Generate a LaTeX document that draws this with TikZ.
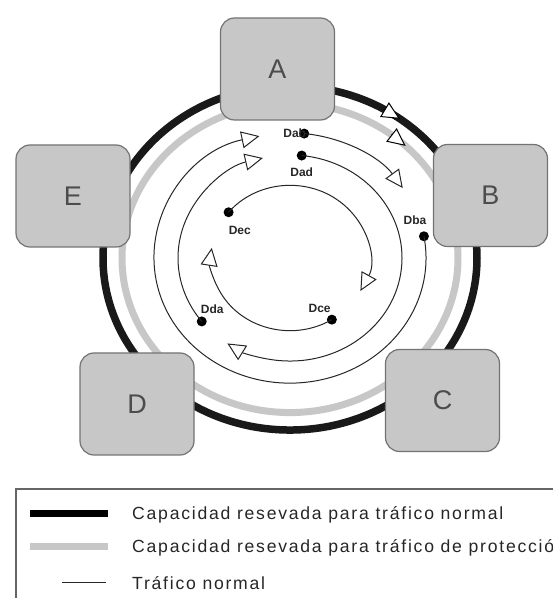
\documentclass[tikz,border=0pt]{standalone}
\usepackage{fontspec}
\setmainfont{Liberation Sans}
\newfontfamily\legendfont[LetterSpace=10]{Liberation Sans}
\usepackage{tikz}
\usetikzlibrary{arrows.meta,positioning}
\tikzset{
  rgnode/.style={
    rectangle, rounded corners=14pt, draw=black!55, fill=black!22, line width=1.2pt,
    minimum width=114pt, minimum height=102pt, inner sep=0pt,
    font=\fontsize{27}{27}\selectfont, text=black!70
  },
  rgdot/.style={circle, fill=black, minimum size=10pt, inner sep=0pt},
  rglabel/.style={font=\fontsize{12}{12}\selectfont\bfseries, text=black!85, inner sep=0pt},
  rgarrow/.style={line width=1pt, draw=black!85,
    -{Triangle[length=18pt, width=17pt, fill=white, line width=1pt]}},
  rgtip/.style={line width=0.6pt,
    -{Triangle[length=18pt, width=17pt, fill=white, line width=1pt]}},
  rgnormal/.style={line width=7.5pt, draw=black!90},
  rgprot/.style={line width=7pt, draw=black!22},
  rgtext/.style={font=\legendfont\fontsize{17.6}{17.6}\selectfont, anchor=west, inner sep=0pt, text=black!85},
}

\begin{document}
\begin{tikzpicture}[x=1pt, y=1pt]
  \path[use as bounding box, clip] (0,0) rectangle (553,598);

  % rings and demands
  \begin{scope}[shift={(290,340)}, yscale=0.92]
    \draw[rgnormal] (0,0) circle[radius=187];
    \draw[rgprot] (0,0) circle[radius=168];
    \draw[rgtip] (60:187) -- (54:187);
    \draw[rgtip] (53:168) -- (46.5:168);

    \node[rgdot] (dab) at (84:136) {};
    \node[rgdot] (dad) at (84:112) {};
    \node[rgdot] (dba) at (10:136) {};
    \node[rgdot] (dda) at (218:112) {};
    \node[rgdot] (dec) at (141:79) {};
    \node[rgdot] (dce) at (-58:79) {};

    \draw[rgarrow] (dab.center) arc[start angle=84, end angle=34, radius=136];
    \draw[rgarrow] (dba.center) arc[start angle=10, end angle=-257, radius=136];
    \draw[rgarrow] (dad.center) arc[start angle=84, end angle=-124, radius=112];
    \draw[rgarrow] (dda.center) arc[start angle=218, end angle=104, radius=112];
    \draw[rgarrow] (dec.center) arc[start angle=141, end angle=-27, radius=79];
    \draw[rgarrow] (dce.center) arc[start angle=-58, end angle=-188, radius=79];
  \end{scope}

  \node[rglabel, left=-2pt of dab.center] (ldab) {Dab};
  \node[rglabel, below=12pt of dad.center] (ldad) {Dad};
  \node[rglabel, above=11pt of dba.center, xshift=-9pt] (ldba) {Dba};
  \node[rglabel, below right=14pt and 0pt of dec.center] (ldec) {Dec};
  \node[rglabel, above left=7pt and 1pt of dce.center] (ldce) {Dce};
  \node[rglabel, above right=8pt and -1pt of dda.center] (ldda) {Dda};

  % nodes
  \node[rgnode] (nA) at (277.5,529) {A};
  \node[rgnode] (nB) at (490.5,402.5) {B};
  \node[rgnode] (nC) at (442.5,197.5) {C};
  \node[rgnode] (nD) at (137,194) {D};
  \node[rgnode] (nE) at (73,402) {E};

  % legend
  \draw[black!60, line width=1.2pt] (16,-5) -- (16,109) -- (560,109);
  \draw[line width=7pt, black] (30,84) -- (108,84);
  \draw[line width=7pt, black!22] (30,51) -- (108,51);
  \draw[line width=1pt, black!85] (62,15) -- (106,15);
  \node[rgtext] (t1) at (132,83) {Capacidad resevada para tráfico normal};
  \node[rgtext] (t2) at (132,50) {Capacidad resevada para tráfico de protección};
  \node[rgtext] (t3) at (132,15) {Tráfico normal};
\end{tikzpicture}
\end{document}
